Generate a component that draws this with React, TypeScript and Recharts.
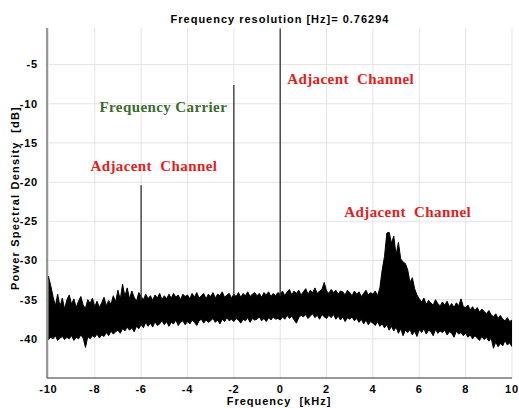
import React from 'react';
import {
  ComposedChart, Area, XAxis, YAxis, CartesianGrid, ReferenceLine, ReferenceDot,
} from 'recharts';

// Frequency grid (kHz), 0.1 kHz step from -10 to 10
const freqStart = -10;
const freqStep = 0.1;

// Upper envelope of the noise floor (dB)
const upperDb = [
  -32.0, -33.2, -34.6, -35.8, -34.3, -35.9, -34.8, -36.2, -35.0, -34.4,
  -35.6, -34.9, -36.0, -35.2, -34.6, -35.7, -36.1, -35.0, -35.5, -34.8,
  -35.9, -35.2, -36.0, -35.4, -34.7, -35.8, -35.1, -35.6, -34.5, -35.3,
  -33.8, -35.0, -33.0, -34.6, -33.5, -34.9, -33.9, -34.7, -35.2, -34.1,
  -34.6, -35.0, -34.3, -34.9, -34.5, -35.1, -34.4, -34.8, -34.2, -35.0,
  -34.5, -34.9, -34.3, -34.8, -34.2, -34.7, -34.4, -35.0, -34.3, -34.6,
  -34.4, -34.9, -34.2, -34.7, -34.1, -34.8, -34.5, -34.2, -34.9, -34.3,
  -34.6, -34.1, -34.8, -34.3, -34.5, -34.0, -34.7, -34.4, -34.2, -34.8,
  -34.3, -34.6, -34.1, -34.7, -34.2, -34.5, -34.0, -34.6, -34.3, -34.1,
  -34.5, -34.2, -34.7, -34.1, -34.4, -34.0, -34.6, -34.2, -34.5, -34.1,
  -34.3, -33.9, -34.5, -34.0, -33.7, -34.4, -33.9, -34.2, -33.8, -34.4,
  -34.0, -33.6, -34.3, -33.8, -34.1, -33.5, -34.2, -33.9, -33.7, -32.8,
  -33.9, -34.2, -33.7, -34.1, -33.8, -34.3, -33.9, -34.0, -34.4, -33.8,
  -34.1, -34.5, -33.9, -34.3, -34.0, -34.6, -34.2, -33.8, -34.4, -34.1,
  -34.3, -33.9, -34.5, -33.5, -31.2, -29.5, -26.5, -26.4, -27.8, -26.9,
  -29.3, -27.7, -29.8, -30.2, -30.4, -31.2, -32.8, -32.2, -33.6, -34.4,
  -34.9, -35.3, -34.8, -35.6, -35.1, -35.4, -35.7, -35.0, -35.5, -35.8,
  -35.3, -35.7, -35.2, -35.9, -35.5, -36.0, -35.4, -35.8, -34.9, -35.9,
  -36.0, -35.7, -36.3, -35.9, -36.4, -36.0, -36.6, -36.2, -36.5, -36.8,
  -36.4, -36.9, -37.2, -36.8, -37.4, -37.0, -37.5, -37.7, -37.3, -37.8,
  -37.6,
];

// Lower envelope of the noise floor (dB)
const lowerDb = [
  -40.1, -39.8, -40.0, -39.6, -40.2, -39.9, -39.7, -40.1, -39.8, -40.0,
  -39.6, -40.2, -39.8, -40.0, -39.5, -39.9, -41.1, -39.7, -40.0, -39.6,
  -39.8, -39.4, -39.9, -39.5, -39.7, -39.2, -39.6, -39.0, -39.4, -39.1,
  -38.9, -39.3, -38.7, -39.0, -38.5, -38.9, -38.6, -39.1, -38.4, -38.7,
  -38.2, -38.6, -37.9, -38.4, -38.0, -38.5, -37.8, -38.3, -38.1, -37.7,
  -38.2, -37.8, -38.4, -37.9, -38.1, -37.6, -38.3, -37.9, -37.7, -38.2,
  -37.8, -38.1, -37.6, -37.9, -38.3, -37.7, -37.5, -38.0, -37.6, -37.9,
  -37.7, -37.4, -37.9, -37.6, -38.1, -37.5, -37.8, -37.3, -37.7, -37.5,
  -37.8, -37.4, -37.6, -38.0, -37.5, -37.7, -37.3, -37.9, -37.4, -37.6,
  -37.5, -37.2, -37.7, -37.4, -37.8, -37.3, -37.6, -37.2, -37.5, -37.4,
  -37.6, -37.2, -37.5, -37.0, -37.4, -37.1, -37.6, -38.0, -37.3, -37.0,
  -37.2, -36.9, -37.4, -37.1, -36.8, -37.3, -37.0, -37.5, -36.9, -37.2,
  -37.4, -37.0, -37.3, -36.9, -37.5, -37.1, -37.6, -37.2, -37.8, -37.3,
  -37.5, -37.2, -37.7, -37.4, -37.9, -37.5, -38.1, -37.6, -38.2, -37.8,
  -38.0, -38.3, -37.8, -38.4, -38.1, -38.6, -38.2, -38.9, -38.4, -39.0,
  -38.5, -39.3, -38.7, -39.6, -38.9, -39.2, -38.8, -39.5, -39.0, -39.7,
  -38.8, -39.2, -38.7, -39.4, -38.9, -39.1, -39.6, -38.8, -39.3, -39.0,
  -39.2, -38.9, -39.5, -39.1, -39.3, -39.8, -39.0, -39.4, -39.2, -39.6,
  -39.3, -39.8, -39.5, -40.0, -39.6, -39.9, -40.2, -39.7, -40.1, -39.8,
  -40.3, -39.9, -41.2, -40.4, -41.0, -40.6, -40.9, -40.2, -40.8, -40.5,
  -41.0,
];

// Discrete tones: frequency (kHz) and peak level (dB)
const toneFreqs = [-6, -2, 0];
const tonePeaks = [-20.4, -7.6, -0.4];
const toneBases = [-35.0, -34.5, -34.5];

// Annotations
const noteTexts = ['Frequency Carrier', 'Adjacent\u00A0 Channel', 'Adjacent\u00A0 Channel', 'Adjacent\u00A0 Channel'];
const noteFreqs = [-5.04, 3.04, -5.45, 5.5];
const noteDb = [-10.4, -6.8, -17.9, -23.8];
const noteColors = ['#3b6a2c', '#e32020', '#e32020', '#e32020'];

const xTicks = [-10, -8, -6, -4, -2, 0, 2, 4, 6, 8, 10];
const yTicks = [-40, -35, -30, -25, -20, -15, -10, -5];

const data = upperDb.map((hi, i) => ({
  freq: Math.round((freqStart + i * freqStep) * 10) / 10,
  range: [lowerDb[i], hi],
}));

const sans = 'Liberation Sans, Arial, sans-serif';
const tickFont = { fontFamily: sans, fontSize: 11, fontWeight: 'bold', fill: '#000', letterSpacing: 0.8 };
const labelStyle: React.CSSProperties = {
  position: 'absolute', whiteSpace: 'pre', fontFamily: sans, fontSize: 11,
  fontWeight: 'bold', color: '#000', lineHeight: '12px',
};

export default function App() {
  return (
    <div style={{ position: 'absolute', left: 0, top: 0, width: 519, height: 408, background: '#fff' }}>
      <ComposedChart
        width={519}
        height={408}
        data={data}
        margin={{ top: 28, right: 7, bottom: 0, left: 0 }}
      >
        <CartesianGrid stroke="#e4e4e4" strokeWidth={1} horizontalValues={yTicks} verticalValues={xTicks} />
        <XAxis
          dataKey="freq"
          type="number"
          domain={[-10.06, 10]}
          ticks={xTicks}
          allowDataOverflow
          height={30}
          tickLine={false}
          axisLine={{ stroke: '#333', strokeWidth: 1 }}
          tick={tickFont}
          tickMargin={1}
        />
        <XAxis
          xAxisId="top"
          orientation="top"
          dataKey="freq"
          type="number"
          domain={[-10.06, 10]}
          height={0}
          tick={false}
          tickLine={false}
          axisLine={{ stroke: '#111', strokeWidth: 1.5 }}
        />
        <YAxis
          type="number"
          domain={[-45, -0.33]}
          ticks={yTicks}
          allowDataOverflow
          width={47}
          tickLine={false}
          axisLine={{ stroke: '#333', strokeWidth: 1 }}
          tick={tickFont}
          tickMargin={3}
        />
        <YAxis
          yAxisId="right"
          orientation="right"
          type="number"
          domain={[-45, -0.33]}
          width={0}
          tick={false}
          tickLine={false}
          axisLine={{ stroke: '#333', strokeWidth: 1.2 }}
        />
        {toneFreqs.map((f, i) => (
          <ReferenceLine
            key={'tone' + i}
            segment={[{ x: f, y: toneBases[i] }, { x: f, y: tonePeaks[i] }]}
            stroke="#333"
            strokeWidth={1.3}
          />
        ))}
        <Area
          dataKey="range"
          type="linear"
          stroke="#000"
          strokeWidth={1}
          fill="#000"
          fillOpacity={1}
          isAnimationActive={false}
          dot={false}
          activeDot={false}
        />
        {noteTexts.map((t, i) => (
          <ReferenceDot
            key={'note' + i}
            x={noteFreqs[i]}
            y={noteDb[i]}
            r={0}
            fill="none"
            stroke="none"
            label={{
              value: t,
              position: 'center',
              fill: noteColors[i],
              fontSize: 15,
              fontWeight: 'bold',
              letterSpacing: 0.4,
              fontFamily: 'Liberation Serif, Times New Roman, serif',
            }}
          />
        ))}
      </ComposedChart>
      <div style={{ ...labelStyle, left: 280, top: 19, transform: 'translate(-50%, -50%)', letterSpacing: 1 }}>
        Frequency resolution [Hz]= 0.76294
      </div>
      <div style={{ ...labelStyle, left: 279, top: 401, transform: 'translate(-50%, -50%)', letterSpacing: 1 }}>
        {'Frequency  [kHz]'}
      </div>
      <div style={{ ...labelStyle, left: 15, top: 198, transform: 'translate(-50%, -50%) rotate(-90deg)', letterSpacing: 1.2 }}>
        {'Power Spectral Density  [dB]'}
      </div>
    </div>
  );
}
